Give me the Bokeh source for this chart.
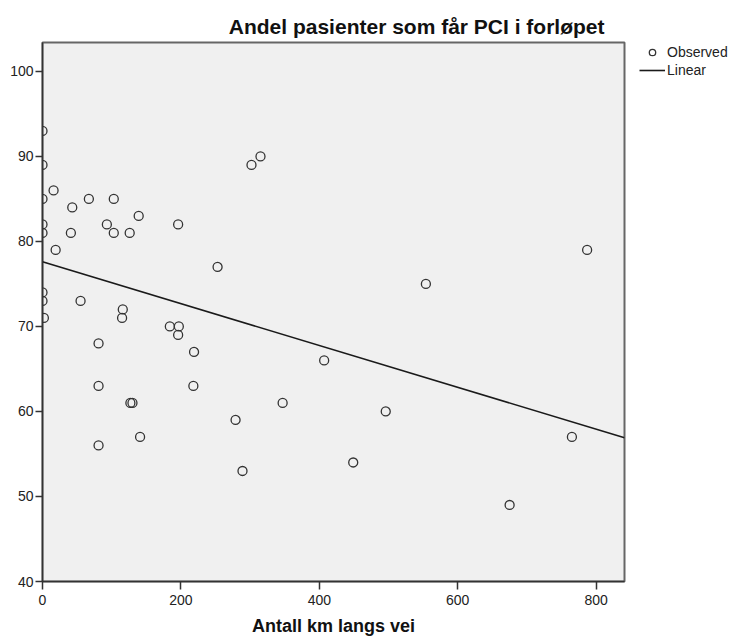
from bokeh.plotting import figure
from bokeh.models import Range1d, Legend, LegendItem, FixedTicker, ColumnDataSource
from bokeh.embed import file_html
from bokeh.resources import INLINE

# Observed points: km along road vs. share of patients getting PCI (%)
km = [0, 0, 16, 0, 67, 103, 43, 139, 0, 93, 196, 0, 41, 103, 126, 19, 253,
      0, 0, 55, 116, 2, 115, 184, 197, 196, 302, 315, 81, 219, 81, 218, 127,
      130, 279, 141, 81, 289, 407, 347, 496, 765, 449, 675, 787, 554]
andel = [93, 89, 86, 85, 85, 85, 84, 83, 82, 82, 82, 81, 81, 81, 81, 79, 77,
         74, 73, 73, 72, 71, 71, 70, 70, 69, 89, 90, 68, 67, 63, 63, 61,
         61, 59, 57, 56, 53, 66, 61, 60, 57, 54, 49, 79, 75]

# Linear fit
intercept = 77.6
slope = -0.0246

x_range = (0, 841)
y_range = (40, 103.4)
x_ticks = [0, 200, 400, 600, 800]
y_ticks = [40, 50, 60, 70, 80, 90, 100]

FONT = "Liberation Sans"

p = figure(frame_width=582, frame_height=539,
           x_range=Range1d(*x_range), y_range=Range1d(*y_range),
           output_backend="svg", toolbar_location=None,
           min_border_left=42, min_border_top=42,
           min_border_bottom=58, min_border_right=110)

p.background_fill_color = "#F0F0F0"
p.border_fill_color = "white"
p.outline_line_color = "#666666"
p.outline_line_width = 2
p.xgrid.visible = False
p.ygrid.visible = False

p.title.text = "Andel pasienter som får PCI i forløpet"
p.title.align = "right"
p.title.offset = 20
p.title.text_font = FONT
p.title.text_font_size = "21px"
p.title.text_font_style = "bold"
p.title.text_color = "#111111"
p.title.standoff = 10

for ax, ticks, tout, stand in ((p.xaxis[0], x_ticks, 8, 5), (p.yaxis[0], y_ticks, 7, 2)):
    ax.ticker = FixedTicker(ticks=ticks)
    ax.axis_line_color = "#333333"
    ax.axis_line_width = 1.5
    ax.major_tick_line_color = "#333333"
    ax.major_tick_line_width = 1.5
    ax.major_tick_out = tout
    ax.major_tick_in = 0
    ax.minor_tick_line_color = None
    ax.major_label_text_font = FONT
    ax.major_label_text_font_size = "14px"
    ax.major_label_text_color = "#222222"
    ax.major_label_standoff = stand

p.xaxis.axis_label = "Antall km langs vei"
p.xaxis.axis_label_text_font = FONT
p.xaxis.axis_label_text_font_size = "18px"
p.xaxis.axis_label_text_font_style = "bold"
p.xaxis.axis_label_text_color = "#111111"
p.xaxis.axis_label_standoff = 8

src = ColumnDataSource(dict(x=km, y=andel))
obs = p.scatter("x", "y", source=src, marker="circle", size=9,
                fill_color=None, line_color="#333333", line_width=1.3)

lx = list(x_range)
ly = [intercept + slope * v for v in lx]
lin = p.line(lx, ly, line_color="#1a1a1a", line_width=1.6)

legend = Legend(items=[LegendItem(label="Observed", renderers=[obs]),
                       LegendItem(label="Linear", renderers=[lin])],
                location=(15, 503), margin=0, padding=0,
                glyph_width=26, glyph_height=16, spacing=2,
                label_standoff=2, label_height=16,
                label_text_font=FONT, label_text_font_size="14px",
                label_text_color="#222222",
                border_line_color=None, background_fill_alpha=0)
p.add_layout(legend, "right")

open("out.html", "w").write(file_html(p, INLINE))
